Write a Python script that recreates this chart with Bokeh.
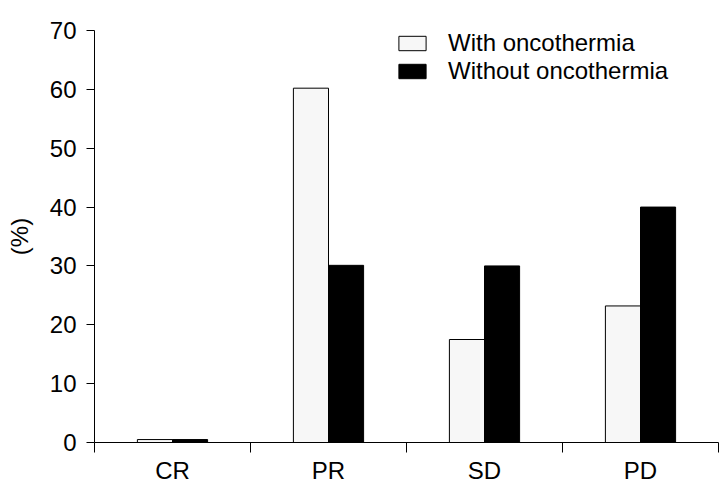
from bokeh.plotting import figure
from bokeh.models import FixedTicker, Range1d, Legend, LegendItem, ColumnDataSource
from bokeh.embed import file_html
from bokeh.resources import INLINE

categories = ["CR", "PR", "SD", "PD"]
with_onco = [0.5, 60.2, 17.5, 23.2]
without_onco = [0.5, 30.1, 30.0, 40.0]
series_names = ["With oncothermia", "Without oncothermia"]
y_ticks = [0, 10, 20, 30, 40, 50, 60, 70]

FONT = "Liberation Sans"
bar_w = 0.225

p = figure(width=722, height=486, output_backend="svg", toolbar_location=None,
           x_range=Range1d(0, len(categories)), y_range=Range1d(0, 70),
           min_border_left=94, min_border_right=4, min_border_top=30, min_border_bottom=44)
p.outline_line_color = None
p.xgrid.grid_line_color = None
p.ygrid.grid_line_color = None
p.background_fill_color = "white"
p.border_fill_color = "white"

idx = list(range(len(categories)))
src_a = ColumnDataSource(dict(x=[i + 0.5 - bar_w / 2 for i in idx], top=with_onco))
src_b = ColumnDataSource(dict(x=[i + 0.5 + bar_w / 2 for i in idx], top=without_onco))
ra = p.vbar(x="x", top="top", width=bar_w, bottom=0, source=src_a,
            fill_color="#f7f7f7", line_color="black", line_width=1)
rb = p.vbar(x="x", top="top", width=bar_w, bottom=0, source=src_b,
            fill_color="black", line_color="black", line_width=1)

# x axis
p.xaxis.ticker = FixedTicker(ticks=[i + 0.5 for i in idx], minor_ticks=list(range(len(categories) + 1)))
p.xaxis.major_label_overrides = {i + 0.5: c for i, c in zip(idx, categories)}
p.xaxis.major_tick_line_color = None
p.xaxis.minor_tick_line_color = "black"
p.xaxis.minor_tick_out = 10
p.xaxis.minor_tick_in = 0
p.xaxis.axis_line_color = "black"
p.xaxis.major_label_text_font = FONT
p.xaxis.major_label_text_font_size = "24px"
p.xaxis.major_label_text_color = "black"
p.xaxis.major_label_standoff = 4

# y axis
p.yaxis.ticker = FixedTicker(ticks=y_ticks, minor_ticks=[])
p.yaxis.major_tick_out = 8
p.yaxis.major_tick_in = 0
p.yaxis.major_tick_line_color = "black"
p.yaxis.axis_line_color = "black"
p.yaxis.major_label_text_font = FONT
p.yaxis.major_label_text_font_size = "24px"
p.yaxis.major_label_text_color = "black"
p.yaxis.major_label_standoff = 10
p.yaxis.axis_label = "(%)"
p.yaxis.axis_label_text_font = FONT
p.yaxis.axis_label_text_font_size = "24px"
p.yaxis.axis_label_text_font_style = "normal"
p.yaxis.axis_label_text_color = "black"
p.yaxis.axis_label_standoff = 14

legend = Legend(items=[LegendItem(label=series_names[0], renderers=[ra]),
                       LegendItem(label=series_names[1], renderers=[rb])],
                location=(301, 357))
legend.glyph_width = 34
legend.glyph_height = 18
legend.label_standoff = 19
legend.label_height = 28
legend.label_text_font = FONT
legend.label_text_font_size = "24px"
legend.label_text_color = "black"
legend.padding = 0
legend.margin = 0
legend.spacing = 0
legend.border_line_color = None
legend.background_fill_color = "white"
legend.background_fill_alpha = 1
p.add_layout(legend)

open("out.html", "w").write(file_html(p, INLINE))
